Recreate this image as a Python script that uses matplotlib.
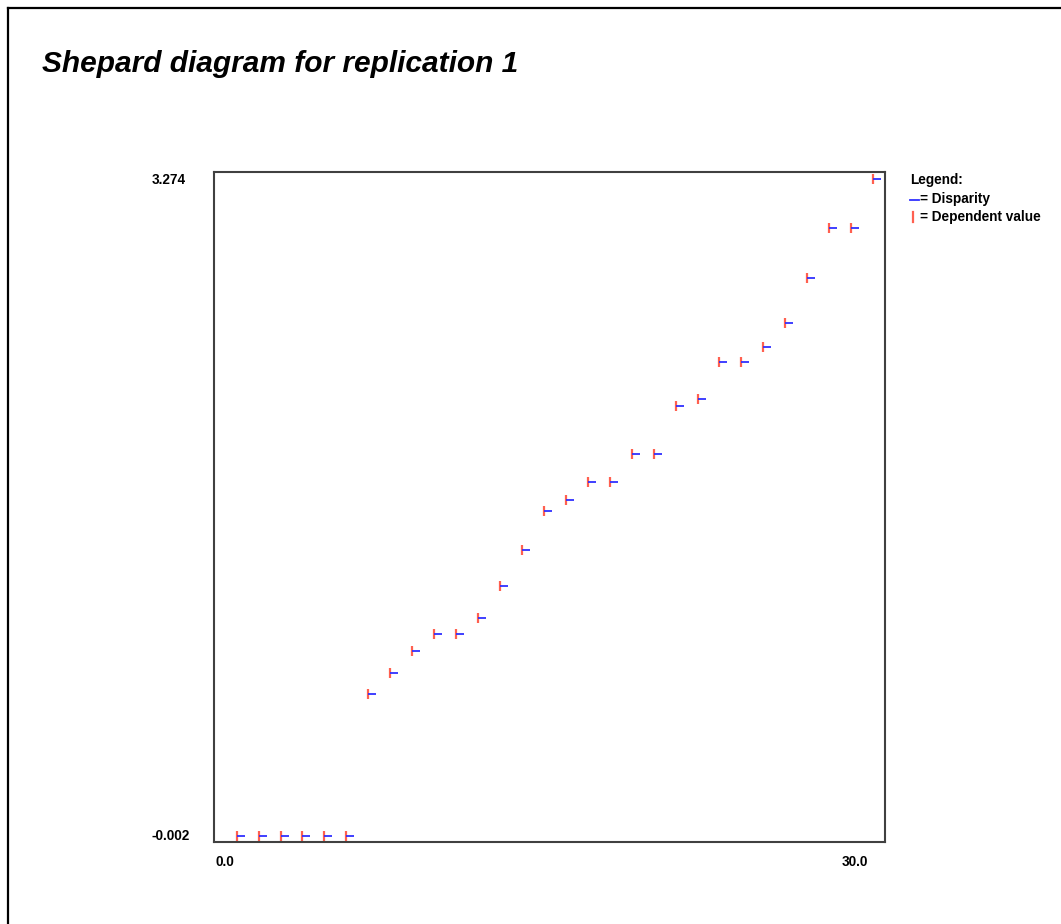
import matplotlib
matplotlib.use("Agg")
import matplotlib.pyplot as plt
from matplotlib.path import Path
from matplotlib.lines import Line2D

plt.rcParams['font.family'] = ['Liberation Sans', 'DejaVu Sans']

# Data
x_values = list(range(1, 31))
dependent = [-0.002, -0.002, -0.002, -0.002, -0.002, -0.002,
             0.706, 0.810, 0.922, 1.004, 1.004, 1.084, 1.247, 1.423,
             1.618, 1.674, 1.762, 1.762, 1.905, 1.905, 2.145, 2.177,
             2.364, 2.364, 2.439, 2.559, 2.783, 3.030, 3.030, 3.274]
disparity = list(dependent)
y_tick_labels = ["3.274", "-0.002"]
x_tick_labels = ["0.0", "30.0"]
title = "Shepard diagram for replication 1"

W, H = 1061, 924
fig = plt.figure(figsize=(W / 100, H / 100), dpi=100)

def fx(px):
    return px / W

def fy(py):
    return 1 - py / H

# outer frame (left and top edges visible)
fig.add_artist(Line2D([fx(7.5), fx(7.5)], [0, fy(7.5)], transform=fig.transFigure,
                      color='black', lw=1.6))
fig.add_artist(Line2D([fx(7.5), 1], [fy(7.5), fy(7.5)], transform=fig.transFigure,
                      color='black', lw=1.6))

# title
fig.text(fx(42), fy(72), title, fontsize=21.5, fontweight='bold', fontstyle='italic',
         ha='left', va='baseline', color='black')

ax = fig.add_axes([fx(214), fy(842), fx(885) - fx(214), fy(172) - fy(842)])
ax.set_xlim(-0.03, 30.54)
ax.set_ylim(-0.032, 3.310)
ax.set_xticks([])
ax.set_yticks([])
for s in ax.spines.values():
    s.set_color('#404040')
    s.set_linewidth(1.5)

hmark = Path([(0, 0), (1, 0)], [Path.MOVETO, Path.LINETO])
ax.plot(x_values, dependent, linestyle='none', marker='|', markersize=7.2,
        markeredgewidth=1.6, color='#ff6050')
ax.plot(x_values, disparity, linestyle='none', marker=hmark, markersize=11.5,
        markeredgewidth=1.3, markerfacecolor='none', color='#3030ff')

# axis labels (only extremes shown)
fig.text(fx(152), fy(180.5), y_tick_labels[0], fontsize=9.8, fontweight='bold',
         ha='left', va='center')
fig.text(fx(152), fy(836.5), y_tick_labels[1], fontsize=9.8, fontweight='bold',
         ha='left', va='center')
fig.text(fx(215), fy(862.5), x_tick_labels[0], fontsize=9.8, fontweight='bold',
         ha='left', va='center')
fig.text(fx(842), fy(862.5), x_tick_labels[1], fontsize=9.8, fontweight='bold',
         ha='left', va='center')

# legend
fig.text(fx(910), fy(180), "Legend:", fontsize=9.8, fontweight='bold', ha='left', va='center')
fig.add_artist(Line2D([fx(910), fx(919)], [fy(199.5), fy(199.5)], transform=fig.transFigure,
                      color='#3030ff', lw=1.3))
fig.text(fx(920), fy(199), "= Disparity", fontsize=9.8, fontweight='bold', ha='left', va='center')
fig.add_artist(Line2D([fx(912.5), fx(912.5)], [fy(212), fy(222)], transform=fig.transFigure,
                      color='#ff6050', lw=1.6))
fig.text(fx(920), fy(217), "= Dependent value", fontsize=9.8, fontweight='bold', ha='left', va='center')

fig.savefig("out.png", dpi=100)
